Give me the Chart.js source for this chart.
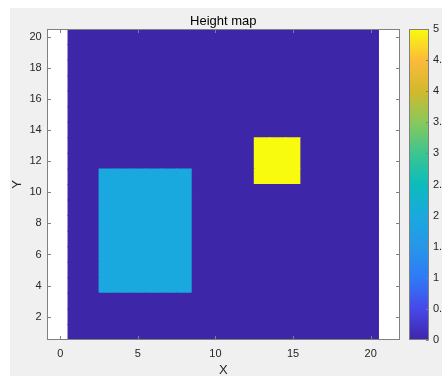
<!DOCTYPE html>
<html><head><meta charset="utf-8">
<script src="https://cdn.jsdelivr.net/npm/chart.js@4.4.1/dist/chart.umd.min.js"></script>
<style>
html,body{margin:0;padding:0;background:#fff;}
#wrap{position:relative;width:442px;height:376px;overflow:hidden;}
#fig{position:absolute;left:10px;top:8px;width:432px;height:368px;background:#f0f0f0;}
canvas{position:absolute;left:0;top:0;}
</style></head><body>
<div id="wrap"><div id="fig"></div>
<canvas id="map" width="442" height="376"></canvas>
<canvas id="cbar" width="442" height="376"></canvas>
</div>
<script>
// ---- data ----
const xCells = [1,2,3,4,5,6,7,8,9,10,11,12,13,14,15,16,17,18,19,20];
const yCells = [1,2,3,4,5,6,7,8,9,10,11,12,13,14,15,16,17,18,19,20];
const baseHeight = 0;
const blockXStart = [3, 13];
const blockXEnd   = [8, 15];
const blockYStart = [4, 11];
const blockYEnd   = [11, 13];
const blockHeight = [2, 5];
const xTicks = [0, 5, 10, 15, 20];
const yTicks = [2, 4, 6, 8, 10, 12, 14, 16, 18, 20];
const colorTicks = [0, 0.5, 1, 1.5, 2, 2.5, 3, 3.5, 4, 4.5, 5];
const colorMin = 0, colorMax = 5;

// ---- colormap (parula-like) ----
const parulaStops = [[0,'#3e26a8'],[0.1,'#4748ea'],[0.2,'#2f7af6'],[0.3,'#2796e8'],[0.4,'#1aa9de'],
  [0.5,'#0cbcbd'],[0.6,'#3cc58f'],[0.7,'#88c95b'],[0.8,'#d2b92c'],[0.9,'#fcbb3a'],[1,'#f9fb0e']];
function hex2rgb(h){return [parseInt(h.slice(1,3),16),parseInt(h.slice(3,5),16),parseInt(h.slice(5,7),16)];}
function parula(v){
  let t=(v-colorMin)/(colorMax-colorMin); t=Math.max(0,Math.min(1,t));
  for(let i=1;i<parulaStops.length;i++){
    if(t<=parulaStops[i][0]){
      const [t0,c0]=parulaStops[i-1],[t1,c1]=parulaStops[i];
      const f=(t-t0)/(t1-t0), a=hex2rgb(c0), b=hex2rgb(c1);
      return 'rgb('+a.map((q,k)=>Math.round(q+(b[k]-q)*f)).join(',')+')';
    }
  }
  return parulaStops[parulaStops.length-1][1];
}
function heightAt(x,y){
  let h=baseHeight;
  for(let i=0;i<blockHeight.length;i++){
    if(x>=blockXStart[i]&&x<=blockXEnd[i]&&y>=blockYStart[i]&&y<=blockYEnd[i]) h=blockHeight[i];
  }
  return h;
}

const FONT='"Liberation Sans", Arial, Helvetica, sans-serif';
const TXT='#262626';
const AXC='#808080';

const framePlugin = {
  id:'frame',
  beforeDatasetsDraw(chart){
    const {ctx, chartArea:a}=chart;
    ctx.save(); ctx.fillStyle='#fff'; ctx.fillRect(a.left,a.top,a.right-a.left,a.bottom-a.top); ctx.restore();
  },
  afterDatasetsDraw(chart){
    const {ctx, chartArea:a, scales}=chart;
    const L=Math.round(a.left)+0.5, R=Math.round(a.right)-0.5, T=Math.round(a.top)+0.5, B=Math.round(a.bottom)-0.5;
    const tl=3.5;
    ctx.save(); ctx.strokeStyle=AXC; ctx.lineWidth=1; ctx.beginPath();
    scales.x.ticks.forEach(t=>{const p=Math.round(scales.x.getPixelForValue(t.value))+0.5;
      ctx.moveTo(p,B); ctx.lineTo(p,B-tl); ctx.moveTo(p,T); ctx.lineTo(p,T+tl);});
    scales.y.ticks.forEach(t=>{const p=Math.round(scales.y.getPixelForValue(t.value))+0.5;
      ctx.moveTo(L,p); ctx.lineTo(L+tl,p); ctx.moveTo(R,p); ctx.lineTo(R-tl,p);});
    ctx.stroke();
    ctx.strokeRect(L,T,R-L,B-T);
    ctx.restore();
  }
};

new Chart(document.getElementById('map'), {
  type:'bar',
  data:{
    datasets: yCells.map(y=>({
      label:'Y '+y,
      data: xCells.map(x=>({x:x, y:[y-0.5, y+0.5]})),
      backgroundColor: xCells.map(x=>parula(heightAt(x,y))),
      borderWidth:0, grouped:false, barPercentage:1, categoryPercentage:1, inflateAmount:0.5
    }))
  },
  options:{
    responsive:false, animation:false, devicePixelRatio:1,
    layout:{padding:{left:0,right:42.5,top:0,bottom:0}},
    plugins:{ legend:{display:false}, tooltip:{enabled:false}, title:{display:false} },
    scales:{
      x:{type:'linear', min:-0.855, max:21.855, offset:false, bounds:'data',
        afterBuildTicks:s=>{s.ticks=xTicks.map(v=>({value:v}));},
        afterFit:s=>{s.height=36;},
        grid:{display:false, drawTicks:false, offset:false}, border:{display:false},
        ticks:{color:TXT, font:{family:FONT,size:11}, padding:7.1, maxRotation:0, autoSkip:false, callback:v=>String(v)},
        title:{display:true, text:'X', color:TXT, font:{family:FONT,size:13,lineHeight:0.8}, padding:0}
      },
      top:{type:'linear', position:'top', min:-0.855, max:21.855, offset:false, bounds:'data',
        afterFit:s=>{s.height=29;},
        grid:{display:false, drawTicks:false}, border:{display:false},
        ticks:{display:false},
        title:{display:true, text:'Height map', color:'#000', font:{family:FONT,size:13,weight:'normal',lineHeight:1.2}, padding:{top:13.2,bottom:0}}
      },
      y:{type:'linear', min:0.5, max:20.5, beginAtZero:false, bounds:'data',
        afterBuildTicks:s=>{s.ticks=yTicks.map(v=>({value:v}));},
        afterFit:s=>{s.width=47;},
        grid:{display:false, drawTicks:false}, border:{display:false},
        ticks:{color:TXT, font:{family:FONT,size:11}, padding:5.3, autoSkip:false, callback:v=>String(v)},
        title:{display:true, text:'Y', color:TXT, font:{family:FONT,size:13,lineHeight:1.2}, padding:{top:9.4,bottom:0}}
      }
    }
  },
  plugins:[framePlugin]
});

const cbarFrame = {
  id:'cbarFrame',
  afterDatasetsDraw(chart){
    const {ctx, chartArea:a, scales}=chart;
    const L=Math.round(a.left)+0.5, R=Math.round(a.right)-0.5, T=Math.round(a.top)+0.5, B=Math.round(a.bottom)-0.5;
    ctx.save(); ctx.strokeStyle=AXC; ctx.lineWidth=1; ctx.beginPath();
    scales.y.ticks.forEach(t=>{const p=Math.round(scales.y.getPixelForValue(t.value))+0.5;
      ctx.moveTo(R,p); ctx.lineTo(R-2.5,p);});
    ctx.stroke(); ctx.strokeRect(L,T,R-L,B-T); ctx.restore();
  }
};

new Chart(document.getElementById('cbar'), {
  type:'bar',
  data:{ labels:['Height'], datasets:[{
    data:[[colorMin,colorMax]],
    backgroundColor(c){
      const ch=c.chart, ys=ch.scales.y;
      if(!ys||!ch.chartArea) return parulaStops[0][1];
      const g=ch.ctx.createLinearGradient(0,ys.getPixelForValue(colorMin),0,ys.getPixelForValue(colorMax));
      parulaStops.forEach(([t,col])=>g.addColorStop(t,col));
      return g;
    },
    borderWidth:0, barPercentage:1, categoryPercentage:1
  }]},
  options:{
    responsive:false, animation:false, devicePixelRatio:1,
    layout:{padding:{left:409,right:0,top:29,bottom:36}},
    plugins:{legend:{display:false}, tooltip:{enabled:false}},
    scales:{
      x:{display:false},
      y:{position:'right', min:colorMin, max:colorMax, beginAtZero:false, bounds:'data',
        afterBuildTicks:s=>{s.ticks=colorTicks.map(v=>({value:v}));},
        afterFit:s=>{s.width=13.3;},
        grid:{display:false, drawTicks:false}, border:{display:false},
        ticks:{color:TXT, font:{family:FONT,size:11}, padding:4.3, autoSkip:false, callback:v=>String(v)}
      }
    }
  },
  plugins:[cbarFrame]
});
</script>
</body></html>
